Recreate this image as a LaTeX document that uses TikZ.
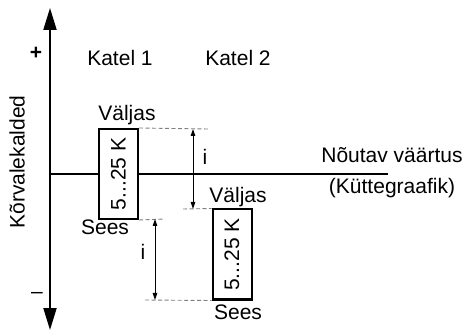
\documentclass[tikz,border=0pt]{standalone}
\usepackage{fontspec}
\setmainfont{Liberation Sans}
\usetikzlibrary{arrows, arrows.meta, positioning}

\begin{document}
\begin{tikzpicture}[auto,transform shape,font=\fontsize{21}{25}\selectfont]
    \tikzstyle{block} = [rectangle, draw, line width=2pt, fill=white,
        minimum width=39pt, minimum height=90pt, inner sep=0pt]
    \tikzstyle{line} = [draw, line width=2pt]
    \tikzstyle{axis} = [draw, line width=2pt,
        {Triangle[length=22pt,width=13pt]}-{Triangle[length=22pt,width=13pt]}]
    \tikzstyle{guide} = [draw, gray, line width=0.9pt, dash pattern=on 4pt off 2.5pt]
    \tikzstyle{span} = [draw, line width=0.9pt,
        {Triangle[length=7pt,width=4.5pt]}-{Triangle[length=7pt,width=4.5pt]}]
    \useasboundingbox (0,0) rectangle (470pt,334pt);

    % axes
    \coordinate (O) at (50pt,160pt);
    \coordinate [above of=O, node distance=166pt] (top);
    \coordinate [below of=O, node distance=156pt] (bot);
    \coordinate [right of=O, node distance=338pt] (lineend);
    \path [axis] (bot) -- (top);
    \node [left of=top, node distance=14pt, yshift=-45pt] (plus) {\textbf{+}};
    \node [left of=bot, node distance=13pt, yshift=35pt] (minus) {\textendash};
    \node [left of=O, node distance=33pt, yshift=12pt, rotate=90] (ylab) {Kõrvalekalded};
    %
    \node [block] (box1) at (118.5pt,160pt) {\rotatebox{90}{5...25 K}};
    \node [block] (box2) at (232pt,79.5pt) {\rotatebox{90}{5...25 K}};
    \path [line] (O) -- (box1.west);
    \path [line] (box1.east) -- (lineend);
    %
    \node [above of=box1, node distance=116pt, xshift=1.5pt] (k1) {Katel 1};
    \node [right of=k1, node distance=118pt] (k2) {Katel 2};
    \node [above of=box1, node distance=59pt, xshift=8.5pt] (out1) {Väljas};
    \node [below of=box1, node distance=53pt, xshift=-13.5pt] (in1) {Sees};
    \node [above of=box2, node distance=57.5pt, xshift=6pt] (out2) {Väljas};
    \node [below of=box2, node distance=57.5pt, xshift=6pt] (in2) {Sees};
    %
    \node [right of=lineend, node distance=4pt, yshift=19pt] (set) {Nõutav väärtus};
    \node [below of=set, node distance=33pt] (curve) {(Küttegraafik)};
    %
    \coordinate (g1) at (208pt,205pt);
    \coordinate (g2) at (183pt,125pt);
    \coordinate (g3) at (165pt,115pt);
    \coordinate (g4) at (145pt,34pt);
    \path [guide] (box1.north east) -- (g1);
    \path [guide] (g2) -- (box2.north west);
    \path [guide] (box1.south east) -- (g3);
    \path [guide] (g4) -- (box2.south west);
    %
    \coordinate (s1a) at (193pt,205pt);
    \coordinate (s1b) at (193pt,125pt);
    \coordinate (s2a) at (155pt,115pt);
    \coordinate (s2b) at (155pt,34pt);
    \path [span] (s1a) -- (s1b);
    \path [span] (s2a) -- (s2b);
    \node [right of=s1a, node distance=12pt, yshift=-28pt] (i1) {i};
    \node [left of=s2a, node distance=12pt, yshift=-33pt] (i2) {i};
\end{tikzpicture}
\end{document}
